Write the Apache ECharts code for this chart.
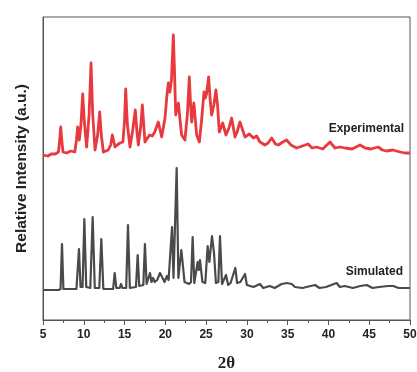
<!DOCTYPE html>
<html><head><meta charset="utf-8">
<script src="https://cdn.jsdelivr.net/npm/echarts@6/dist/echarts.min.js"></script>
<style>html,body{margin:0;padding:0;background:#fff}#c{width:417px;height:372px}</style>
</head><body><div id="c"></div>
<script>
// Experimental pattern (2θ, relative intensity, offset upward)
const expX = [5.0,5.6,6.0,6.5,6.9,7.05,7.17,7.3,7.45,7.9,8.4,8.9,9.1,9.25,9.45,9.65,9.87,10.05,10.35,10.65,10.89,11.1,11.38,11.7,11.95,12.15,12.4,13.0,13.3,13.5,13.83,14.1,14.44,14.8,15.0,15.14,15.35,15.67,16.0,16.32,16.5,16.69,17.0,17.18,17.5,17.8,18.1,18.4,18.7,19.14,19.55,19.96,20.2,20.37,20.55,20.75,20.98,21.12,21.27,21.45,21.6,21.8,22.0,22.4,22.7,22.94,23.1,23.23,23.5,23.84,24.17,24.45,24.74,24.9,25.05,25.31,25.5,25.68,25.95,26.2,26.4,26.62,27.03,27.44,27.8,28.13,28.54,28.8,29.15,29.77,30.3,30.8,31.2,31.6,32.2,32.6,33.04,33.5,33.85,34.4,34.87,35.4,36.1,36.8,37.5,38.0,38.56,39.3,40.19,40.8,41.4,42.03,42.9,43.87,44.5,45.2,46.1,46.6,47.14,47.9,48.77,49.4,50.0];
const expY = [165,164,166,166,168,180,193,180,168,167,169,168,180,193,180,195,226,200,173,205,257,205,170,185,208,185,168,170,175,185,173,175,177,178,200,231,195,173,190,210,190,175,195,215,178,182,185,184,188,198,183,202,225,237,228,240,285,250,205,212,217,200,185,180,205,243,215,198,217,185,178,200,228,222,226,243,220,205,215,230,215,188,197,185,192,202,183,188,198,183,186,182,184,178,175,177,182,176,175,178,180,175,172,174,176,172,173,171,178,172,173,172,171,175,172,171,173,170,169,170,168,167,167];

// Simulated pattern
const simX = [5.0,6.9,7.15,7.33,7.5,9.1,9.41,9.6,9.85,10.07,10.3,10.8,11.09,11.35,11.9,12.15,12.4,13.6,13.79,14.0,14.4,14.56,14.75,15.2,15.42,15.65,16.4,16.61,16.8,17.3,17.5,17.7,18.12,18.3,18.5,18.7,19.0,19.35,19.6,19.9,20.2,20.4,20.6,20.82,21.0,21.2,21.39,21.6,21.96,22.15,22.35,22.9,23.15,23.35,23.55,23.96,24.1,24.25,24.55,24.9,25.19,25.4,25.72,25.97,26.2,26.5,26.7,26.95,27.44,27.7,28.0,28.58,28.8,29.2,29.77,30.0,30.8,31.6,32.0,32.8,33.4,34.26,34.9,35.5,35.9,36.8,38.35,38.9,39.7,41.0,41.4,42.0,43.0,43.9,44.7,45.4,46.2,47.3,47.95,48.6,50.0];
const simY = [30,30,31,76,31,31,71,33,33,101,33,32,103,32,32,81,31,31,47,32,32,36,32,32,95,32,33,65,34,35,76,36,47,38,42,38,40,47,43,38,44,40,42,93,42,40,152,42,70,55,38,36,38,83,37,58,50,60,38,37,74,58,84,67,37,38,84,36,45,35,37,52,37,38,46,35,33,36,32,34,32,36,37,36,33,32,35,32,33,37,33,34,32,34,35,32,33,34,34,32,32];

const xTicks = [5,10,15,20,25,30,35,40,45,50];
const seriesNames = ['Experimental','Simulated'];

const pair = (xs, ys) => xs.map((x, i) => [x, ys[i]]);
const chart = echarts.init(document.getElementById('c'));
const sans = 'Liberation Sans, Arial, sans-serif';
chart.setOption({
  animation: false,
  grid: {left: 43, right: 7, top: 17, bottom: 52, show: true, borderColor: '#555', borderWidth: 1,
         containLabel: false, outerBoundsMode: 'none'},
  xAxis: {
    type: 'value', min: 5, max: 50, interval: 5,
    name: '2θ', nameLocation: 'middle', nameGap: 35,
    nameTextStyle: {fontFamily: 'Liberation Serif, Times New Roman, serif', fontWeight: 'bold', fontSize: 17, color: '#222'},
    axisLine: {show: true, lineStyle: {color: '#555', width: 1}},
    axisTick: {show: true, inside: false, length: 5, lineStyle: {color: '#555'}},
    minorTick: {show: true, splitNumber: 2, length: 3, lineStyle: {color: '#555'}},
    axisLabel: {fontSize: 12, margin: 9, fontFamily: sans, fontWeight: 'bold', color: '#222',
      formatter: v => xTicks.includes(v) ? String(v) : ''},
    splitLine: {show: false}
  },
  yAxis: {
    type: 'value', min: 0, max: 303,
    name: 'Relative Intensity (a.u.)', nameLocation: 'middle', nameGap: 13,
    nameTextStyle: {fontSize: 15.5, fontFamily: sans, fontWeight: 'bold', color: '#222'},
    axisLine: {show: true, lineStyle: {color: '#555', width: 1}},
    axisTick: {show: false}, axisLabel: {show: false}, splitLine: {show: false}
  },
  series: [
    {name: seriesNames[0], type: 'line', data: pair(expX, expY), symbol: 'none',
     lineStyle: {color: '#e8393f', width: 2.8, join: 'round'}},
    {name: seriesNames[1], type: 'line', data: pair(simX, simY), symbol: 'none',
     lineStyle: {color: '#4a4a4a', width: 2.2, join: 'round'}}
  ],
  graphic: [
    {type: 'text', right: 13, top: 123, style: {text: seriesNames[0], fontSize: 12, fontWeight: 'bold', fontFamily: sans, fill: '#222'}},
    {type: 'text', right: 14, top: 266, style: {text: seriesNames[1], fontSize: 12, fontWeight: 'bold', fontFamily: sans, fill: '#222'}}
  ]
});
</script></body></html>
